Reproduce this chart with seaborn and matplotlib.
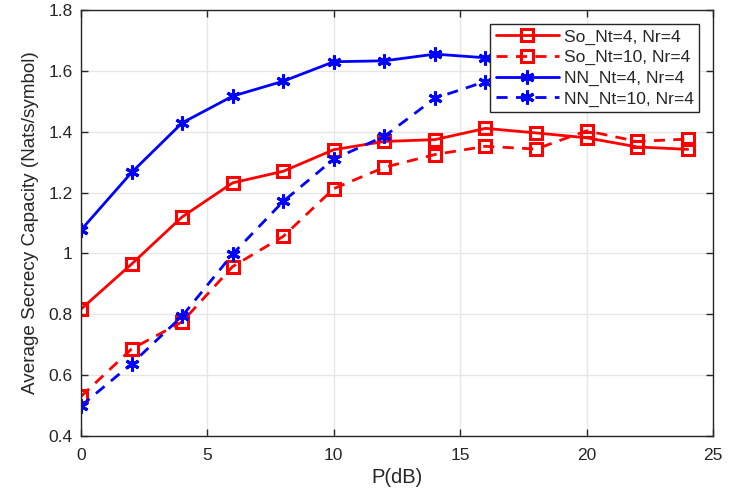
import matplotlib
matplotlib.use("Agg")
import matplotlib.pyplot as plt
import seaborn as sns
import pandas as pd
import numpy as np

# Data
p_db = [0, 2, 4, 6, 8, 10, 12, 14, 16, 18, 20, 22, 24]
so_nt4 = [0.817, 0.965, 1.120, 1.232, 1.270, 1.341, 1.368, 1.374, 1.411, 1.396, 1.380, 1.350, 1.342]
so_nt10 = [0.530, 0.686, 0.775, 0.957, 1.056, 1.213, 1.283, 1.325, 1.352, 1.343, 1.403, 1.368, 1.376]
nn_nt4 = [1.077, 1.266, 1.429, 1.517, 1.566, 1.630, 1.633, 1.655, 1.643, 1.650, 1.655, 1.650, 1.655]
nn_nt10 = [0.499, 0.637, 0.794, 0.998, 1.171, 1.310, 1.385, 1.510, 1.565, 1.590, 1.600, 1.605, 1.600]
series_names = ["So_Nt=4, Nr=4", "So_Nt=10, Nr=4", "NN_Nt=4, Nr=4", "NN_Nt=10, Nr=4"]
x_ticks = [0, 5, 10, 15, 20, 25]
y_ticks = [0.4, 0.6, 0.8, 1.0, 1.2, 1.4, 1.6, 1.8]

df = pd.concat([
    pd.DataFrame({"P": p_db, "C": vals, "series": name})
    for name, vals in zip(series_names, [so_nt4, so_nt10, nn_nt4, nn_nt10])
], ignore_index=True)

sns.set_theme(style="white")
plt.rcParams['font.family'] = ['Liberation Sans', 'DejaVu Sans']

fig = plt.figure(figsize=(7.31, 4.91), dpi=100)
ax = fig.add_axes([81/731, 55/491, (713-81)/731, (436-10)/491])

styles = {
    series_names[0]: dict(color="#ff0000", ls="-", marker="s", mfc="none"),
    series_names[1]: dict(color="#ff0000", ls=(0, (4, 3)), marker="s", mfc="none"),
    series_names[2]: dict(color="#0000ff", ls="-", marker=(6, 2, 0), mfc="#0000ff"),
    series_names[3]: dict(color="#0000ff", ls=(0, (4, 3)), marker=(6, 2, 0), mfc="#0000ff"),
}

for name in series_names:
    st = styles[name]
    sub = df[df["series"] == name]
    sns.lineplot(data=sub, x="P", y="C", ax=ax, color=st["color"], linestyle=st["ls"],
                 marker=st["marker"], markerfacecolor=st["mfc"], markeredgecolor=st["color"],
                 markersize=8.5 if st["marker"] == "s" else 10, markeredgewidth=2.2,
                 linewidth=2, label=name, estimator=None, sort=False)

ax.set_xlim(0, 25)
ax.set_ylim(0.4, 1.8)
ax.set_xticks(x_ticks)
ax.set_xticklabels([str(t) for t in x_ticks])
ax.set_yticks(y_ticks)
ax.set_yticklabels(["0.4", "0.6", "0.8", "1", "1.2", "1.4", "1.6", "1.8"])
ax.grid(True, color="#e6e6e6", linewidth=1)
ax.set_axisbelow(True)
for s in ax.spines.values():
    s.set_visible(True)
    s.set_color("#262626")
    s.set_linewidth(1)
ax.tick_params(direction="in", length=5, width=1, colors="#262626", labelsize=12.5,
               top=True, right=True, bottom=True, left=True, pad=6)
ax.tick_params(axis="x", pad=9)
ax.set_xlabel("P(dB)", fontsize=14.5, color="#262626", labelpad=3)
ax.set_ylabel("Average Secrecy Capacity (Nats/symbol)", fontsize=13.6, color="#262626", labelpad=7)

leg = ax.legend(loc="upper right", fontsize=12.6, frameon=True, fancybox=False,
                framealpha=1, edgecolor="#262626", handlelength=3.6,
                borderaxespad=0.8, labelspacing=0.3, borderpad=0.3, handletextpad=0.3)
leg.get_frame().set_linewidth(1)

fig.savefig("out.png", dpi=100)
